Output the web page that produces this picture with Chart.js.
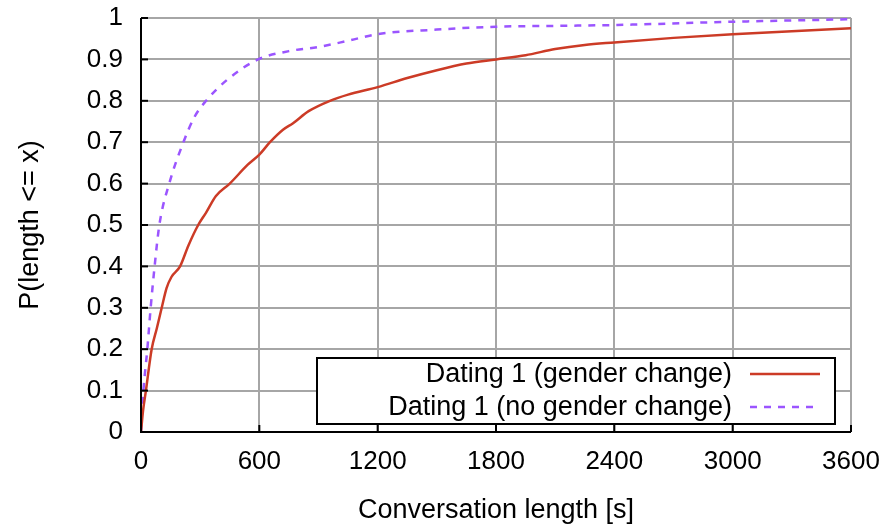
<!DOCTYPE html>
<html>
<head>
<meta charset="utf-8">
<script src="https://cdn.jsdelivr.net/npm/chart.js@4.4.0/dist/chart.umd.min.js"></script>
<style>
  html, body { margin: 0; padding: 0; background: #fff; }
  #wrap { width: 887px; height: 527px; }
</style>
</head>
<body>
<div id="wrap"><canvas id="cdf"></canvas></div>
<script>
// conversation length [s] -> P(length <= x)
const genderChangeX = [0, 10, 25, 54, 80, 105, 130, 155, 198, 240, 290, 330, 380, 450, 540, 600, 654, 720, 771, 850, 958, 1050, 1200, 1350, 1500, 1650, 1800, 1950, 2100, 2250, 2400, 2700, 3000, 3300, 3600];
const genderChangeY = [0, 0.05, 0.1, 0.2, 0.25, 0.3, 0.348, 0.375, 0.4, 0.45, 0.5, 0.53, 0.57, 0.6, 0.645, 0.67, 0.7, 0.73, 0.746, 0.775, 0.8, 0.815, 0.833, 0.855, 0.874, 0.89, 0.9, 0.91, 0.925, 0.935, 0.941, 0.952, 0.961, 0.968, 0.975];

const noChangeX = [0, 5, 12, 32, 49, 69, 93, 143, 215, 270, 330, 435, 594, 750, 900, 1050, 1200, 1500, 1800, 2100, 2400, 3000, 3600];
const noChangeY = [0, 0.05, 0.1, 0.2, 0.3, 0.4, 0.5, 0.6, 0.7, 0.76, 0.8, 0.85, 0.9, 0.92, 0.93, 0.945, 0.961, 0.972, 0.979, 0.981, 0.983, 0.991, 0.997];

const xTicks = [0, 600, 1200, 1800, 2400, 3000, 3600];
const seriesLabels = ["Dating 1 (gender change)", "Dating 1 (no gender change)"];

const FONT = "'Liberation Sans', Arial, sans-serif";

function toPoints(xs, ys) {
    return xs.map((x, i) => ({ x: x, y: ys[i] }));
}

// gnuplot-ish legend box inside the plot, text then line sample
const boxLegend = {
    id: "boxLegend",
    afterDatasetsDraw(chart) {
        const ctx = chart.ctx;
        const area = chart.chartArea;
        const w = 518, h = 66;
        const right = area.right - 16;
        const bottom = area.bottom - 8;
        const left = right - w, top = bottom - h;
        ctx.save();
        ctx.fillStyle = "#fff";
        ctx.fillRect(left, top, w, h);
        ctx.strokeStyle = "#000";
        ctx.lineWidth = 2;
        ctx.strokeRect(left, top, w, h);
        ctx.font = "27px " + FONT;
        ctx.textAlign = "right";
        ctx.textBaseline = "middle";
        chart.data.datasets.forEach((ds, i) => {
            const y = top + 16 + i * 33;
            ctx.fillStyle = "#000";
            ctx.fillText(ds.label, right - 103, y + 1);
            ctx.strokeStyle = ds.borderColor;
            ctx.lineWidth = ds.borderWidth;
            ctx.setLineDash(ds.borderDash || []);
            ctx.beginPath();
            ctx.moveTo(right - 85, y);
            ctx.lineTo(right - 15, y);
            ctx.stroke();
            ctx.setLineDash([]);
        });
        ctx.restore();
    }
};

// black axes on left/bottom with inward ticks
const axesFrame = {
    id: "axesFrame",
    afterDatasetsDraw(chart) {
        const ctx = chart.ctx;
        const a = chart.chartArea;
        const xs = chart.scales.x, ys = chart.scales.y;
        ctx.save();
        ctx.strokeStyle = "#000";
        ctx.lineWidth = 2;
        ctx.beginPath();
        ctx.moveTo(a.left, a.top);
        ctx.lineTo(a.left, a.bottom);
        ctx.lineTo(a.right, a.bottom);
        ctx.stroke();
        ys.ticks.forEach(t => {
            const y = ys.getPixelForValue(t.value);
            ctx.beginPath();
            ctx.moveTo(a.left, y);
            ctx.lineTo(a.left + 7, y);
            ctx.stroke();
        });
        xs.ticks.forEach(t => {
            const x = xs.getPixelForValue(t.value);
            ctx.beginPath();
            ctx.moveTo(x, a.bottom);
            ctx.lineTo(x, a.bottom - 7);
            ctx.stroke();
        });
        ctx.restore();
    }
};

new Chart(document.getElementById("cdf"), {
    type: "line",
    data: {
        datasets: [{
            label: seriesLabels[0],
            data: toPoints(genderChangeX, genderChangeY),
            borderColor: "#cc3b26",
            borderWidth: 2.5,
            pointRadius: 0,
            cubicInterpolationMode: "monotone",
            fill: false
        }, {
            label: seriesLabels[1],
            data: toPoints(noChangeX, noChangeY),
            borderColor: "#9b55ff",
            borderWidth: 2.5,
            borderDash: [7, 7],
            pointRadius: 0,
            cubicInterpolationMode: "monotone",
            fill: false
        }]
    },
    options: {
        responsive: true,
        maintainAspectRatio: false,
        animation: false,
        layout: { padding: { top: 18, right: 36, left: 0, bottom: 0 } },
        plugins: { legend: { display: false }, tooltip: { enabled: false } },
        scales: {
            x: {
                type: "linear",
                min: 0,
                max: 3600,
                afterBuildTicks: s => { s.ticks = xTicks.map(v => ({ value: v })); },
                afterFit: s => { s.height = 95; s.paddingLeft = 0; s.paddingRight = 0; },
                grid: { color: "#a6a6a6", lineWidth: 2, drawTicks: false },
                border: { display: false },
                ticks: { color: "#000", font: { family: FONT, size: 26 }, padding: 14, maxRotation: 0,
                    callback: v => String(v) },
                title: { display: true, text: "Conversation length [s]", color: "#000", font: { family: FONT, size: 27 }, padding: { top: 0, bottom: 0 } }
            },
            y: {
                min: 0,
                max: 1,
                afterFit: s => { s.width = 141; s.paddingTop = 0; s.paddingBottom = 0; },
                grid: { color: "#a6a6a6", lineWidth: 2, drawTicks: false },
                border: { display: false },
                ticks: { stepSize: 0.1, color: "#000", font: { family: FONT, size: 26 }, padding: 18,
                    callback: v => String(Math.round(v * 10) / 10) },
                title: { display: true, text: "P(length <= x)", color: "#000", font: { family: FONT, size: 27 }, padding: { top: 14, bottom: 0 } }
            }
        }
    },
    plugins: [boxLegend, axesFrame]
});
</script>
</body>
</html>
